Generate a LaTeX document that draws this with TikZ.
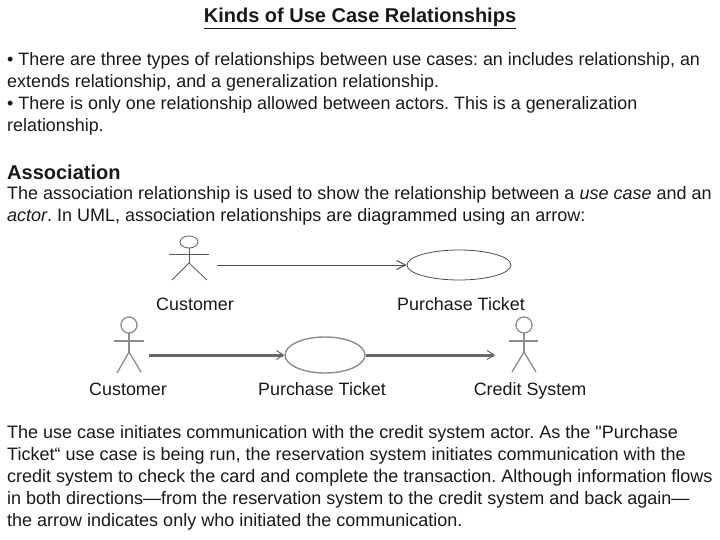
\documentclass[tikz,border=0pt]{standalone}
\usepackage{fontspec}
\setmainfont{Liberation Sans}
\newfontfamily\quotefont{Liberation Sans}
\usetikzlibrary{arrows.meta}
\usetikzlibrary{shapes.geometric}
\tikzset{
  txtline/.style={anchor=base west,inner sep=0pt,font=\fontsize{17.9}{20}\selectfont,text=black!90},
  wideline/.style={txtline,font=\fontsize{18}{20}\selectfont},
  lbl/.style={anchor=base,inner sep=0pt,font=\fontsize{17.9}{20}\selectfont,text=black!90},
  thinstick/.style={draw=black!65,line width=0.8pt},
  thickstick/.style={draw=black!45,line width=1.3pt},
  thinuse/.style={ellipse,draw=black!70,line width=0.8pt,inner sep=0pt},
  thickuse/.style={ellipse,draw=black!45,line width=1.4pt,inner sep=0pt},
  thinassoc/.style={draw=black!70,line width=1pt,-{Straight Barb[length=9pt,width=9pt]}},
  thickassoc/.style={draw=black!60,line width=3pt,-{Straight Barb[length=7pt,width=9pt,line width=1pt]}},
}
\begin{document}
\frenchspacing
\begin{tikzpicture}[x=1pt,y=-1pt]
\useasboundingbox (0,0) rectangle (720,540);
\node[lbl,font=\fontsize{20}{24}\selectfont\bfseries] (title) at (360,23) {\underline{Kinds of Use Case Relationships}};
\node[txtline] (introa) at (7,66) {• There are three types of relationships between use cases: an includes relationship, an};
\node[txtline] (introb) at (7,88) {extends relationship, and a generalization relationship.};
\node[txtline] (introc) at (7,110) {• There is only one relationship allowed between actors. This is a generalization};
\node[txtline] (introd) at (7,132) {relationship.};
\node[txtline,font=\fontsize{20}{24}\selectfont\bfseries] (assoc) at (7,180) {Association};
\node[wideline] (assoca) at (7,200) {The association relationship is used to show the relationship between a \textit{use case} and an};
\node[wideline] (assocb) at (7,222) {\textit{actor}. In UML, association relationships are diagrammed using an arrow:};
% upper row
\draw[thinstick] (189,242) ellipse (9 and 6);
\draw[thinstick] (169,254) -- (209,254);
\draw[thinstick] (189,248) -- (189,263);
\draw[thinstick] (172,280) -- (189,263) -- (207,280);
\coordinate (custa) at (217,265);
\node[thinuse,minimum width=104pt,minimum height=30pt] (ticka) at (459,265) {};
\draw[thinassoc] (custa) -- (ticka.west);
\node[lbl] (custalbl) at (195,310) {Customer};
\node[lbl] (tickalbl) at (461,310) {Purchase Ticket};
% lower row
\draw[thickstick] (129,325) circle (8);
\draw[thickstick] (114,341) -- (144,341);
\draw[thickstick] (129,333) -- (129,352);
\draw[thickstick] (117,373) -- (129,352) -- (141,372);
\coordinate (custb) at (149,355);
\node[thickuse,minimum width=80pt,minimum height=36pt] (tickb) at (325,355) {};
\draw[thickassoc] (custb) -- (tickb.west);
\draw[thickstick] (524,325) circle (8);
\draw[thickstick] (509,341) -- (538,341);
\draw[thickstick] (524,333) -- (524,352);
\draw[thickstick] (512,372) -- (524,352) -- (536,372);
\coordinate (credit) at (495,355);
\draw[thickassoc] (tickb.east) -- (credit);
\node[lbl] (custblbl) at (128,395) {Customer};
\node[lbl] (tickblbl) at (322,395) {Purchase Ticket};
\node[lbl] (creditlbl) at (530,395) {Credit System};
% closing text
\node[wideline] (enda) at (7,438) {The use case initiates communication with the credit system actor. As the {\quotefont"}Purchase};
\node[wideline] (endb) at (7,460) {Ticket“ use case is being run, the reservation system initiates communication with the};
\node[wideline] (endc) at (7,482) {credit system to check the card and complete the transaction. Although information flows};
\node[wideline] (endd) at (7,504) {in both directions—from the reservation system to the credit system and back again—};
\node[wideline] (ende) at (7,526) {the arrow indicates only who initiated the communication.};
\end{tikzpicture}
\end{document}
